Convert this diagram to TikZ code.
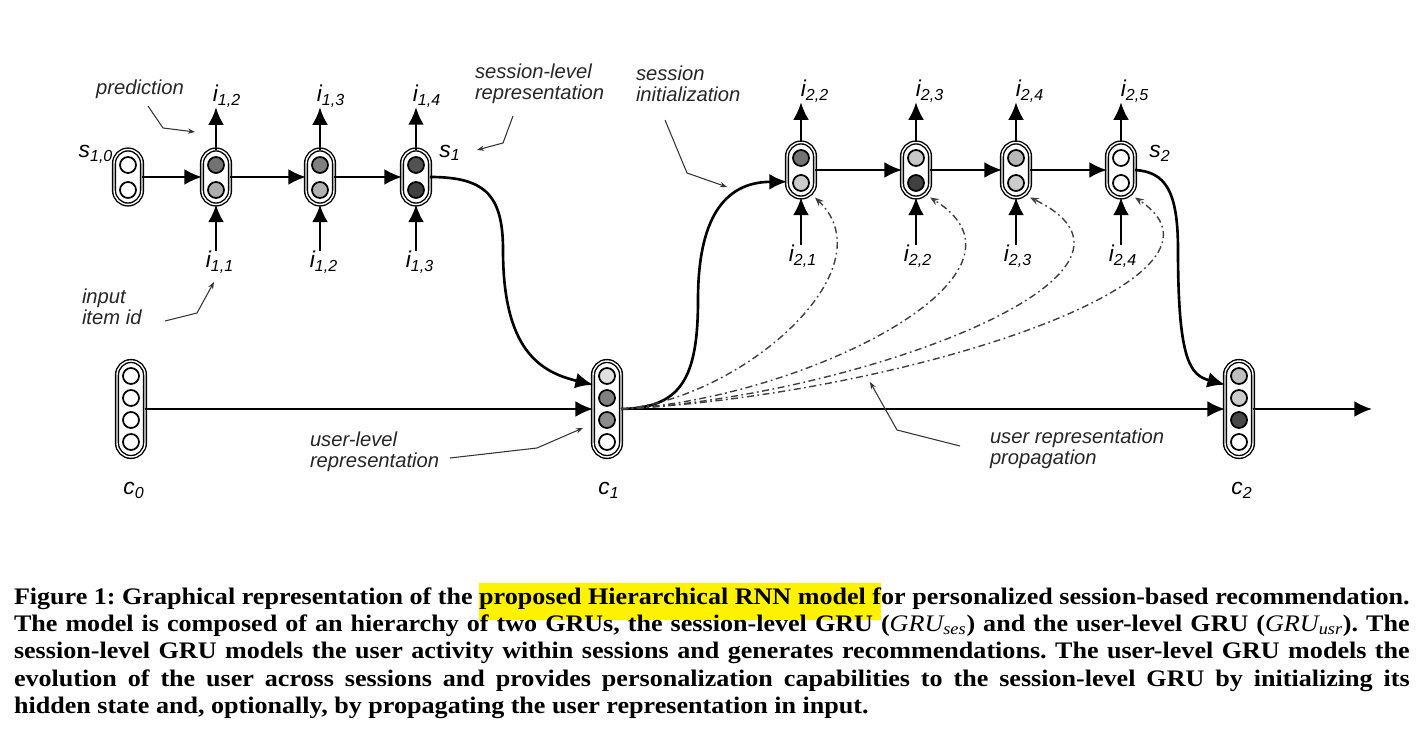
\documentclass[tikz,border=0pt]{standalone}
\usepackage{fontspec}
\setmainfont{Liberation Serif}[FakeStretch=1.1]
\setsansfont{Liberation Sans}
\usetikzlibrary{arrows.meta}
\frenchspacing

\newcommand{\capline}[1]{\makebox[27.92cm][s]{#1}}
\newcommand{\hilite}[1]{{\setlength{\fboxsep}{0pt}\colorbox{yellow}{\rule[-9pt]{0pt}{21pt}#1}}}
\newcommand{\gru}[1]{{\mdseries\itshape GRU\textsubscript{#1}}}

\begin{document}
\begin{tikzpicture}[
            x = 0.02cm, y = -0.02cm,
            every node/.style={inner sep=0pt, outer sep=0pt},
            unit/.style={draw, rectangle, rounded corners=0.28cm, minimum width=0.56cm,
                minimum height=1.1cm, fill=white, line width=0.8pt, double=white, double distance=0.8pt},
            tall/.style={unit, minimum height=1.92cm},
            cell/.style={circle, draw, line width=1pt, minimum size=0.32cm},
            lab/.style={font=\sffamily\itshape\fontsize{13}{15}\selectfont},
            note/.style={font=\sffamily\itshape\fontsize{11.5}{12}\selectfont, align=left, text=black!85},
            line/.style={line width=1.3pt, -{Latex[length=10pt, width=9pt]}},
            curve/.style={line width=1.5pt, -{Latex[length=10pt, width=9pt]}},
            prop/.style={line width=0.8pt, black!75, dash pattern=on 4pt off 2pt on 1pt off 2pt,
                -{Stealth[length=5pt, width=4pt]}},
            hint/.style={line width=0.6pt, black!80, -{Stealth[length=4pt, width=3pt]}},
            capt/.style={anchor=base west, font=\fontsize{13.5}{15}\selectfont\bfseries},
            ]

        \useasboundingbox (0, 0) rectangle (1420, 749);

        \node[unit] (s10) at (128, 177) {};
        \node[cell, fill=white] (s10a) at (128, 165) {};
        \node[cell, fill=white] (s10b) at (128, 190) {};
        \node[unit] (u11) at (216, 177) {};
        \node[cell, fill=black!55] (u11a) at (216, 165) {};
        \node[cell, fill=black!32] (u11b) at (216, 190) {};
        \node[unit] (u12) at (320, 177) {};
        \node[cell, fill=black!50] (u12a) at (320, 165) {};
        \node[cell, fill=black!30] (u12b) at (320, 190) {};
        \node[unit] (u13) at (416, 177) {};
        \node[cell, fill=black!68] (u13a) at (416, 165) {};
        \node[cell, fill=black!75] (u13b) at (416, 190) {};

        \node[unit] (u21) at (801, 170) {};
        \node[cell, fill=black!55] (u21a) at (801, 158) {};
        \node[cell, fill=black!20] (u21b) at (801, 183) {};
        \node[unit] (u22) at (916, 170) {};
        \node[cell, fill=black!22] (u22a) at (916, 158) {};
        \node[cell, fill=black!75] (u22b) at (916, 183) {};
        \node[unit] (u23) at (1016, 170) {};
        \node[cell, fill=black!28] (u23a) at (1016, 158) {};
        \node[cell, fill=black!20] (u23b) at (1016, 183) {};
        \node[unit] (u24) at (1121, 170) {};
        \node[cell, fill=white] (u24a) at (1121, 158) {};
        \node[cell, fill=white] (u24b) at (1121, 183) {};

        \node[tall] (c0) at (131, 409) {};
        \node[cell, fill=white] (c0a) at (131, 376) {};
        \node[cell, fill=white] (c0b) at (131, 398) {};
        \node[cell, fill=white] (c0c) at (131, 420) {};
        \node[cell, fill=white] (c0d) at (131, 442) {};
        \node[tall] (c1) at (607, 409) {};
        \node[cell, fill=black!12] (c1a) at (607, 376) {};
        \node[cell, fill=black!50] (c1b) at (607, 398) {};
        \node[cell, fill=black!45] (c1c) at (607, 420) {};
        \node[cell, fill=white] (c1d) at (607, 442) {};
        \node[tall] (c2) at (1239, 409) {};
        \node[cell, fill=black!25] (c2a) at (1239, 376) {};
        \node[cell, fill=black!20] (c2b) at (1239, 398) {};
        \node[cell, fill=black!72] (c2c) at (1239, 420) {};
        \node[cell, fill=white] (c2d) at (1239, 442) {};

        \node[lab] (ls10) at (96, 154) {s\textsubscript{1,0}};
        \node[lab] (ls1) at (450, 153) {s\textsubscript{1}};
        \node[lab] (ls2) at (1160, 153) {s\textsubscript{2}};
        \node[lab] (lc0) at (134, 490) {c\textsubscript{0}};
        \node[lab] (lc1) at (609, 490) {c\textsubscript{1}};
        \node[lab] (lc2) at (1242, 490) {c\textsubscript{2}};

        \node[lab] (o12) at (227, 96) {i\textsubscript{1,2}};
        \node[lab] (o13) at (331, 96) {i\textsubscript{1,3}};
        \node[lab] (o14) at (427, 96) {i\textsubscript{1,4}};
        \node[lab] (n11) at (220, 262) {i\textsubscript{1,1}};
        \node[lab] (n12) at (324, 262) {i\textsubscript{1,2}};
        \node[lab] (n13) at (420, 262) {i\textsubscript{1,3}};
        \node[lab] (o22) at (815, 91) {i\textsubscript{2,2}};
        \node[lab] (o23) at (930, 91) {i\textsubscript{2,3}};
        \node[lab] (o24) at (1030, 91) {i\textsubscript{2,4}};
        \node[lab] (o25) at (1135, 91) {i\textsubscript{2,5}};
        \node[lab] (n21) at (803, 256) {i\textsubscript{2,1}};
        \node[lab] (n22) at (918, 256) {i\textsubscript{2,2}};
        \node[lab] (n23) at (1018, 256) {i\textsubscript{2,3}};
        \node[lab] (n24) at (1123, 256) {i\textsubscript{2,4}};

        \draw[line] (s10) -- (u11);
        \draw[line] (u11) -- (u12);
        \draw[line] (u12) -- (u13);
        \draw[line] (u21) -- (u22);
        \draw[line] (u22) -- (u23);
        \draw[line] (u23) -- (u24);

        \draw[line] (u11.north) -- (u11.north |- o12.south);
        \draw[line] (u12.north) -- (u12.north |- o13.south);
        \draw[line] (u13.north) -- (u13.north |- o14.south);
        \draw[line] (u21.north) -- (u21.north |- o22.south);
        \draw[line] (u22.north) -- (u22.north |- o23.south);
        \draw[line] (u23.north) -- (u23.north |- o24.south);
        \draw[line] (u24.north) -- (u24.north |- o25.south);
        \draw[line] (u11.south |- n11.north) -- (u11.south);
        \draw[line] (u12.south |- n12.north) -- (u12.south);
        \draw[line] (u13.south |- n13.north) -- (u13.south);
        \draw[line] (u21.south |- n21.north) -- (u21.south);
        \draw[line] (u22.south |- n22.north) -- (u22.south);
        \draw[line] (u23.south |- n23.north) -- (u23.south);
        \draw[line] (u24.south |- n24.north) -- (u24.south);

        \coordinate (uend) at (1372, 409);
        \draw[line] (c0) -- (c1);
        \draw[line] (c1) -- (c2);
        \draw[line] (c2) -- (uend);

        \coordinate (k1) at (503, 250);
        \coordinate (k2) at (698, 300);
        \coordinate (k3) at (1178, 250);
        \draw[curve] (u13.east) .. controls (485, 177) and (503, 195) .. (k1)
            .. controls (503, 350) and (540, 372) .. (c1.120);
        \draw[curve] (c1.east) .. controls (680, 408) and (698, 380) .. (k2)
            .. controls (698, 210) and (730, 182) .. (u21.220);
        \draw[curve] (u24.east) .. controls (1165, 172) and (1178, 190) .. (k3)
            .. controls (1178, 360) and (1190, 375) .. (c2.120);

        \draw[prop] (c1.east) .. controls (740, 400) and (890, 270) .. (u21.south east);
        \draw[prop] (c1.east) .. controls (800, 400) and (1055, 275) .. (u22.south east);
        \draw[prop] (c1.east) .. controls (850, 398) and (1190, 275) .. (u23.south east);
        \draw[prop] (c1.east) .. controls (900, 395) and (1260, 280) .. (u24.south east);

        \node[note] (pred) at (140, 89) {prediction};
        \node[note, anchor=west] (inid) at (82, 307) {input\\item id};
        \node[note, anchor=west] (sesrep) at (475, 84) {session-level\\representation};
        \node[note, anchor=west] (sesini) at (636, 84) {session\\initialization};
        \node[note, anchor=west] (usrrep) at (310, 452) {user-level\\representation};
        \node[note, anchor=west] (usrprop) at (990, 449) {user representation\\propagation};

        \coordinate (tpred) at (195, 132);
        \coordinate (tinid) at (214, 282);
        \coordinate (tsesrep) at (477, 150);
        \coordinate (tsesini) at (727, 187);
        \coordinate (tusrrep) at (583, 428);
        \coordinate (tusrprop) at (870, 382);
        \draw[hint] (148, 106) -- (163, 128) -- (tpred);
        \draw[hint] (165, 321) -- (197, 313) -- (tinid);
        \draw[hint] (513, 116) -- (503, 143) -- (tsesrep);
        \draw[hint] (665, 120) -- (687, 173) -- (tsesini);
        \draw[hint] (450, 458) -- (537, 448) -- (tusrrep);
        \draw[hint] (960, 446) -- (897, 430) -- (tusrprop);

        \node[capt] (cap1) at (14, 604) {\capline{Figure 1: Graphical representation of the \hilite{proposed Hierarchical RNN model f}or personalized session-based recommendation.}};
        \node[capt] (cap2) at (14, 631) {\capline{The model is composed of an hierarchy of two GRUs, the session-level GRU (\gru{ses}) and the user-level GRU (\gru{usr}). The}};
        \node[capt] (cap3) at (14, 658) {\capline{session-level GRU models the user activity within sessions and generates recommendations. The user-level GRU models the}};
        \node[capt] (cap4) at (14, 686) {\capline{evolution of the user across sessions and provides personalization capabilities to the session-level GRU by initializing its}};
        \node[capt] (cap5) at (14, 713) {hidden state and, optionally, by propagating the user representation in input.};
    \end{tikzpicture}
\end{document}
